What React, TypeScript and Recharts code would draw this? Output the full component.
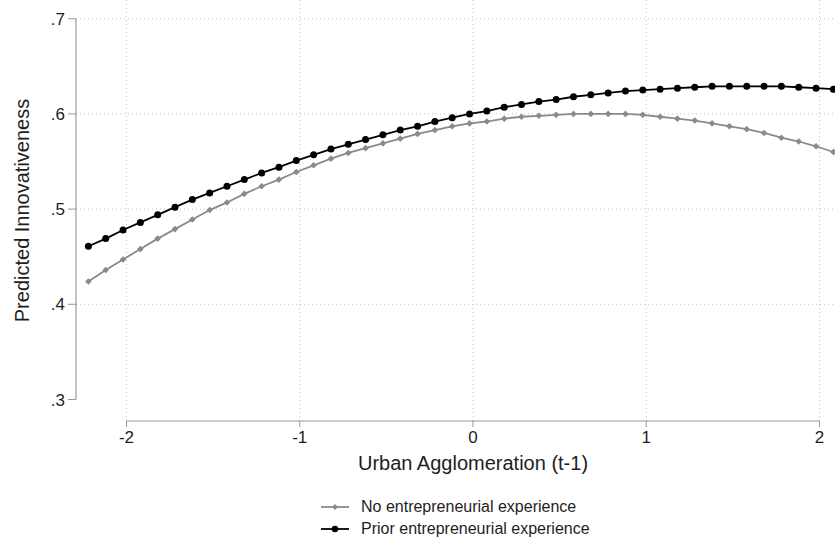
import { LineChart, Line, XAxis, YAxis, CartesianGrid, ReferenceLine, Legend } from 'recharts';

const FONT = '"Liberation Sans", Arial, sans-serif';
const TEXT = '#1e1e1e';
const AXIS = '#9a9a9a';
const GRAY = '#8a8a8a';
const BLACK = '#000000';

// urban agglomeration (standardised, t-1)
const xValues = [
  -2.22, -2.12, -2.02, -1.92, -1.82, -1.72, -1.62, -1.52, -1.42, -1.32, -1.22,
  -1.12, -1.02, -0.92, -0.82, -0.72, -0.62, -0.52, -0.42, -0.32, -0.22, -0.12,
  -0.02, 0.08, 0.18, 0.28, 0.38, 0.48, 0.58, 0.68, 0.78, 0.88, 0.98,
  1.08, 1.18, 1.28, 1.38, 1.48, 1.58, 1.68, 1.78, 1.88, 1.98, 2.08,
];

const noExperience = [
  0.424, 0.436, 0.447, 0.458, 0.469, 0.479, 0.489, 0.499, 0.507, 0.516, 0.524,
  0.531, 0.539, 0.546, 0.553, 0.559, 0.564, 0.569, 0.574, 0.579, 0.583, 0.587,
  0.590, 0.592, 0.595, 0.597, 0.598, 0.599, 0.600, 0.600, 0.600, 0.600, 0.599,
  0.597, 0.595, 0.593, 0.590, 0.587, 0.584, 0.580, 0.575, 0.571, 0.566, 0.560,
];

const priorExperience = [
  0.461, 0.469, 0.478, 0.486, 0.494, 0.502, 0.510, 0.517, 0.524, 0.531, 0.538,
  0.544, 0.551, 0.557, 0.563, 0.568, 0.573, 0.578, 0.583, 0.587, 0.592, 0.596,
  0.600, 0.603, 0.607, 0.610, 0.613, 0.615, 0.618, 0.620, 0.622, 0.624, 0.625,
  0.626, 0.627, 0.628, 0.629, 0.629, 0.629, 0.629, 0.629, 0.628, 0.627, 0.626,
];

const xTicks = [-2, -1, 0, 1, 2];
const yTicks = [0.3, 0.4, 0.5, 0.6, 0.7];
const yGrid = [0.4, 0.5, 0.6, 0.7];
const seriesNames = ['No entrepreneurial experience', 'Prior entrepreneurial experience'];

const data = xValues.map((x, i) => ({ x, no: noExperience[i], prior: priorExperience[i] }));

const X_DOMAIN: [number, number] = [-2.2915, 2.4646];
const Y_DOMAIN: [number, number] = [0.27742, 0.71964];

const Diamond = (props: any) => {
  const { cx, cy, index } = props;
  if (cx == null || cy == null) return null;
  const r = 3.3;
  return (
    <polygon
      key={`d-${index}`}
      points={`${cx},${cy - r} ${cx + r},${cy} ${cx},${cy + r} ${cx - r},${cy}`}
      fill={GRAY}
    />
  );
};

const Dot = (props: any) => {
  const { cx, cy, index } = props;
  if (cx == null || cy == null) return null;
  return <circle key={`c-${index}`} cx={cx} cy={cy} r={3.5} fill={BLACK} />;
};

const LegendContent = () => (
  <div style={{ fontFamily: FONT, fontSize: 16, color: TEXT, lineHeight: '22px' }}>
    {seriesNames.map((name, i) => (
      <div key={name} style={{ display: 'flex', alignItems: 'center', height: 22 }}>
        <svg width={30} height={22}>
          <line x1={1} y1={11} x2={29} y2={11} stroke={i === 0 ? GRAY : BLACK} strokeWidth={1.8} />
          {i === 0 ? (
            <polygon points="15,8 18,11 15,14 12,11" fill={GRAY} />
          ) : (
            <circle cx={15} cy={11} r={3.3} fill={BLACK} />
          )}
        </svg>
        <span style={{ marginLeft: 11 }}>{name}</span>
      </div>
    ))}
  </div>
);

const tickStyle = { fontFamily: FONT, fontSize: 17, fill: TEXT };

export default function App() {
  return (
    <div
      style={{
        position: 'fixed',
        left: 0,
        top: 0,
        width: 835,
        height: 539,
        overflow: 'hidden',
        background: '#fff',
      }}
    >
      <LineChart width={900} height={539} data={data} margin={{ top: 0, right: 0, bottom: 88, left: 0 }}>
        <CartesianGrid
          stroke="#c4c4c4"
          strokeDasharray="1 3"
          horizontalValues={yGrid}
          verticalValues={xTicks}
        />
        <XAxis
          dataKey="x"
          type="number"
          domain={X_DOMAIN}
          allowDataOverflow
          ticks={xTicks}
          height={30}
          axisLine={false}
          tickLine={{ stroke: AXIS }}
          tickSize={6}
          tickMargin={4}
          tick={tickStyle}
          label={{
            content: ({ viewBox }: any) => (
              <text
                x={viewBox.x + viewBox.width / 2 - 15}
                y={viewBox.y + 42}
                textAnchor="middle"
                dominantBaseline="central"
                style={{ fontFamily: FONT, fontSize: 20, fill: TEXT }}
              >
                Urban Agglomeration (t-1)
              </text>
            ),
          }}
        />
        <YAxis
          type="number"
          domain={Y_DOMAIN}
          allowDataOverflow
          ticks={yTicks}
          width={76}
          axisLine={false}
          tickLine={{ stroke: AXIS }}
          tickSize={8}
          tickMargin={3}
          tick={tickStyle}
          tickFormatter={(v: number) => v.toFixed(1).replace(/^0/, '')}
          label={{
            content: ({ viewBox }: any) => {
              const cx = viewBox.x + 22;
              const cy = viewBox.y + viewBox.height / 2;
              return (
                <text
                  x={cx}
                  y={cy}
                  transform={`rotate(-90, ${cx}, ${cy})`}
                  textAnchor="middle"
                  dominantBaseline="central"
                  style={{ fontFamily: FONT, fontSize: 20, fill: TEXT }}
                >
                  Predicted Innovativeness
                </text>
              );
            },
          }}
        />
        <ReferenceLine
          segment={[{ x: X_DOMAIN[0], y: 0.3 }, { x: X_DOMAIN[0], y: 0.7 }]}
          stroke={AXIS}
          strokeWidth={1.2}
          ifOverflow="visible"
        />
        <ReferenceLine
          segment={[{ x: -2, y: Y_DOMAIN[0] }, { x: 2, y: Y_DOMAIN[0] }]}
          stroke={AXIS}
          strokeWidth={1.2}
          ifOverflow="visible"
        />
        <Line
          dataKey="no"
          name={seriesNames[0]}
          stroke={GRAY}
          strokeWidth={1.8}
          dot={Diamond}
          activeDot={false}
          isAnimationActive={false}
        />
        <Line
          dataKey="prior"
          name={seriesNames[1]}
          stroke={BLACK}
          strokeWidth={1.8}
          dot={Dot}
          activeDot={false}
          isAnimationActive={false}
        />
        <Legend
          layout="vertical"
          align="center"
          verticalAlign="middle"
          content={LegendContent}
          wrapperStyle={{ left: 320, top: 496, width: 320, right: 'auto', bottom: 'auto' }}
        />
      </LineChart>
    </div>
  );
}
